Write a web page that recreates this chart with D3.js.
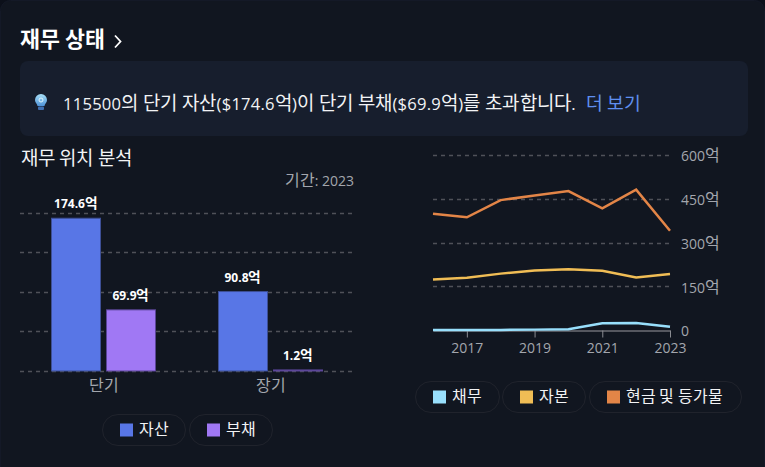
<!DOCTYPE html>
<html>
<head>
<meta charset="utf-8">
<script src="https://cdn.jsdelivr.net/npm/d3@7"></script>
<style>
    @font-face { font-family: "KR"; src: local("Noto Sans CJK KR"), local("Noto Sans CJK KR Regular"); unicode-range: U+AC00-D7A3; size-adjust: 114%; font-weight: 400; }
    @font-face { font-family: "KR"; src: local("Noto Sans CJK KR Bold"); unicode-range: U+AC00-D7A3; size-adjust: 114%; font-weight: 700; }
    html, body { margin: 0; padding: 0; background: #0c101a; }
    svg { display: block; }
    text { font-family: "KR", "Open Sans", "Noto Sans CJK KR", sans-serif; }
</style>
</head>
<body>
<div id="chart"></div>
<script>
// left chart: short / long term position
const positionCategories = ["단기", "장기"];
const assetValues = [174.6, 90.8];
const liabilityValues = [69.9, 1.2];
const positionTicks = [0, 45, 90, 135, 180];

// right chart: history
const years = [2016, 2017, 2018, 2019, 2020, 2021, 2022, 2023];
const yearTicks = [2017, 2019, 2021, 2023];
const debtValues = [2, 2, 2, 3, 4, 25, 26, 13];
const equityValues = [175, 181, 195, 206, 210, 205, 182, 194];
const cashValues = [400, 388, 447, 463, 478, 419, 483, 342];
const historyTicks = [0, 150, 300, 450, 600];

const GRID = "#4f5158";
const MUTED = "#a3a6ad";
const AXIS_FONT = "KR, 'Open Sans', sans-serif";

const svg = d3.select("#chart").append("svg").attr("width", 765).attr("height", 467);

// card + callout
svg.append("rect").attr("x", 0.5).attr("y", 0.5).attr("width", 764).attr("height", 500).attr("rx", 10)
    .attr("fill", "#111620").attr("stroke", "#141927");
svg.append("rect").attr("x", 20).attr("y", 61).attr("width", 728).attr("height", 75).attr("rx", 8).attr("fill", "#171e2d");

svg.append("text").attr("x", 20).attr("y", 47).attr("fill", "#fff")
    .attr("font-size", 19).attr("font-weight", 700).text("재무 상태");
svg.append("path").attr("d", "M115 35.5l5.5 6l-5.5 6").attr("fill", "none").attr("stroke", "#fff").attr("stroke-width", 1.8);

// bulb icon
const grad = svg.append("defs").append("linearGradient").attr("id", "bulbFill").attr("x2", 0).attr("y2", 1);
grad.append("stop").attr("offset", 0).attr("stop-color", "#a8e0f7");
grad.append("stop").attr("offset", 1).attr("stop-color", "#4f93d8");
const bulb = svg.append("g").attr("transform", "translate(41,100)");
bulb.append("path").attr("d", "M-6 0a6 6 0 1 1 12 0c0 2.5-2 3.5-2.5 6h-7c-.5-2.5-2.5-3.5-2.5-6z").attr("fill", "url(#bulbFill)");
bulb.append("circle").attr("r", 2).attr("fill", "none").attr("stroke", "#dff4fc").attr("stroke-width", 1);
bulb.append("rect").attr("x", -3).attr("y", 6.5).attr("width", 6).attr("height", 3.5).attr("rx", 1).attr("fill", "#3f6fb0");

const note = svg.append("text").attr("x", 63).attr("y", 110).attr("font-size", 16.6).attr("fill", "#f2f3f5");
note.append("tspan").attr("letter-spacing", 0.23).text("115500의 단기 자산($174.6억)이 단기 부채($69.9억)를 초과합니다.");
note.append("tspan").attr("dx", 10).attr("font-size", 16).attr("fill", "#5f8ff0").text("더 보기");

svg.append("text").attr("x", 21).attr("y", 165).attr("font-size", 16.6).attr("fill", "#f2f3f5").text("재무 위치 분석");
svg.append("text").attr("x", 354).attr("y", 186).attr("text-anchor", "end").attr("font-size", 14).attr("fill", MUTED).text("기간: 2023");

// left chart
const xPos = d3.scaleBand().domain(positionCategories).range([20, 354]);
const yPos = d3.scaleLinear().domain([0, 180]).range([371, 213.5]);

svg.append("g").selectAll("line").data(positionTicks).enter().append("line")
    .attr("x1", 20).attr("x2", 354)
    .attr("y1", d => Math.floor(yPos(d)) + 0.5).attr("y2", d => Math.floor(yPos(d)) + 0.5)
    .attr("stroke", GRID).attr("stroke-width", 1.3).attr("stroke-dasharray", "4 4");

function drawBars(values, offset, fill, stroke) {
    const g = svg.append("g");
    g.selectAll("rect").data(values).enter().append("rect")
        .attr("x", (d, i) => xPos(positionCategories[i]) + xPos.bandwidth() / 2 + offset + 0.5)
        .attr("width", 49)
        .attr("y", d => yPos(d))
        .attr("height", d => yPos(0) - yPos(d))
        .attr("fill", fill).attr("stroke", stroke);
    g.selectAll("text").data(values).enter().append("text")
        .attr("x", (d, i) => xPos(positionCategories[i]) + xPos.bandwidth() / 2 + offset + 25)
        .attr("y", d => yPos(d) - 10)
        .attr("text-anchor", "middle").attr("font-size", 12).attr("font-weight", 700).attr("fill", "#fff")
        .text(d => d + "억");
}
drawBars(assetValues, -52.5, "#5876e6", "#3d4f96");
drawBars(liabilityValues, 2.5, "#a078f4", "#5a4596");

const xPosAxis = svg.append("g").attr("transform", "translate(0,371)")
    .call(d3.axisBottom(xPos).tickSize(0).tickPadding(10));
xPosAxis.select(".domain").remove();
xPosAxis.selectAll("text").attr("font-size", 14).attr("fill", MUTED).style("font-family", AXIS_FONT);

// right chart
const xYear = d3.scaleLinear().domain([2016, 2023]).range([433, 670]);
const yHist = d3.scaleLinear().domain([0, 600]).range([330.5, 155.5]);

svg.append("g").selectAll("line").data(historyTicks.slice(1)).enter().append("line")
    .attr("x1", 433).attr("x2", 670)
    .attr("y1", d => Math.floor(yHist(d)) + 0.5).attr("y2", d => Math.floor(yHist(d)) + 0.5)
    .attr("stroke", GRID).attr("stroke-width", 1.3).attr("stroke-dasharray", "4 4");

const xYearAxis = svg.append("g").attr("transform", "translate(0,330.5)")
    .call(d3.axisBottom(xYear).tickValues(yearTicks).tickFormat(d3.format("d")).tickSize(7).tickPadding(6).tickSizeOuter(0));
xYearAxis.select(".domain").attr("stroke", "#6c6e74").attr("stroke-width", 1.5);
xYearAxis.selectAll("line").attr("stroke", "#8a8c92");
xYearAxis.selectAll("text").attr("font-size", 14).attr("fill", MUTED).style("font-family", AXIS_FONT);

const yHistAxis = svg.append("g").attr("transform", "translate(681,1)")
    .call(d3.axisRight(yHist).tickValues(historyTicks).tickSize(0).tickPadding(0).tickFormat(d => d === 0 ? "0" : d + "억"));
yHistAxis.select(".domain").remove();
yHistAxis.selectAll("text").attr("font-size", 14).attr("fill", MUTED).style("font-family", AXIS_FONT);

const line = d3.line().x((d, i) => xYear(years[i])).y(d => yHist(d));
[[debtValues, "#98dffc"], [equityValues, "#f0bd55"], [cashValues, "#e38547"]].forEach(s => {
    svg.append("path").attr("d", line(s[0])).attr("fill", "none")
        .attr("stroke", s[1]).attr("stroke-width", 2.5);
});

// legends
function legendItem(x, y, width, label, color) {
    const g = svg.append("g").attr("transform", "translate(" + x + "," + y + ")");
    g.append("rect").attr("x", 0.5).attr("y", 0.5).attr("width", width - 1).attr("height", 31).attr("rx", 15.5)
        .attr("fill", "none").attr("stroke", "#20232c");
    g.append("rect").attr("x", 18).attr("y", 9.5).attr("width", 13).attr("height", 13).attr("fill", color);
    g.append("text").attr("x", 36.5).attr("y", 21).attr("font-size", 14).attr("fill", "#f2f3f5").text(label);
}
legendItem(102, 414, 84, "자산", "#5876e6");
legendItem(189, 414, 84, "부채", "#a078f4");
legendItem(415, 381, 85, "채무", "#98dffc");
legendItem(502, 381, 84, "자본", "#f0bd55");
legendItem(589, 381, 153, "현금 및 등가물", "#e38547");
</script>
</body>
</html>
